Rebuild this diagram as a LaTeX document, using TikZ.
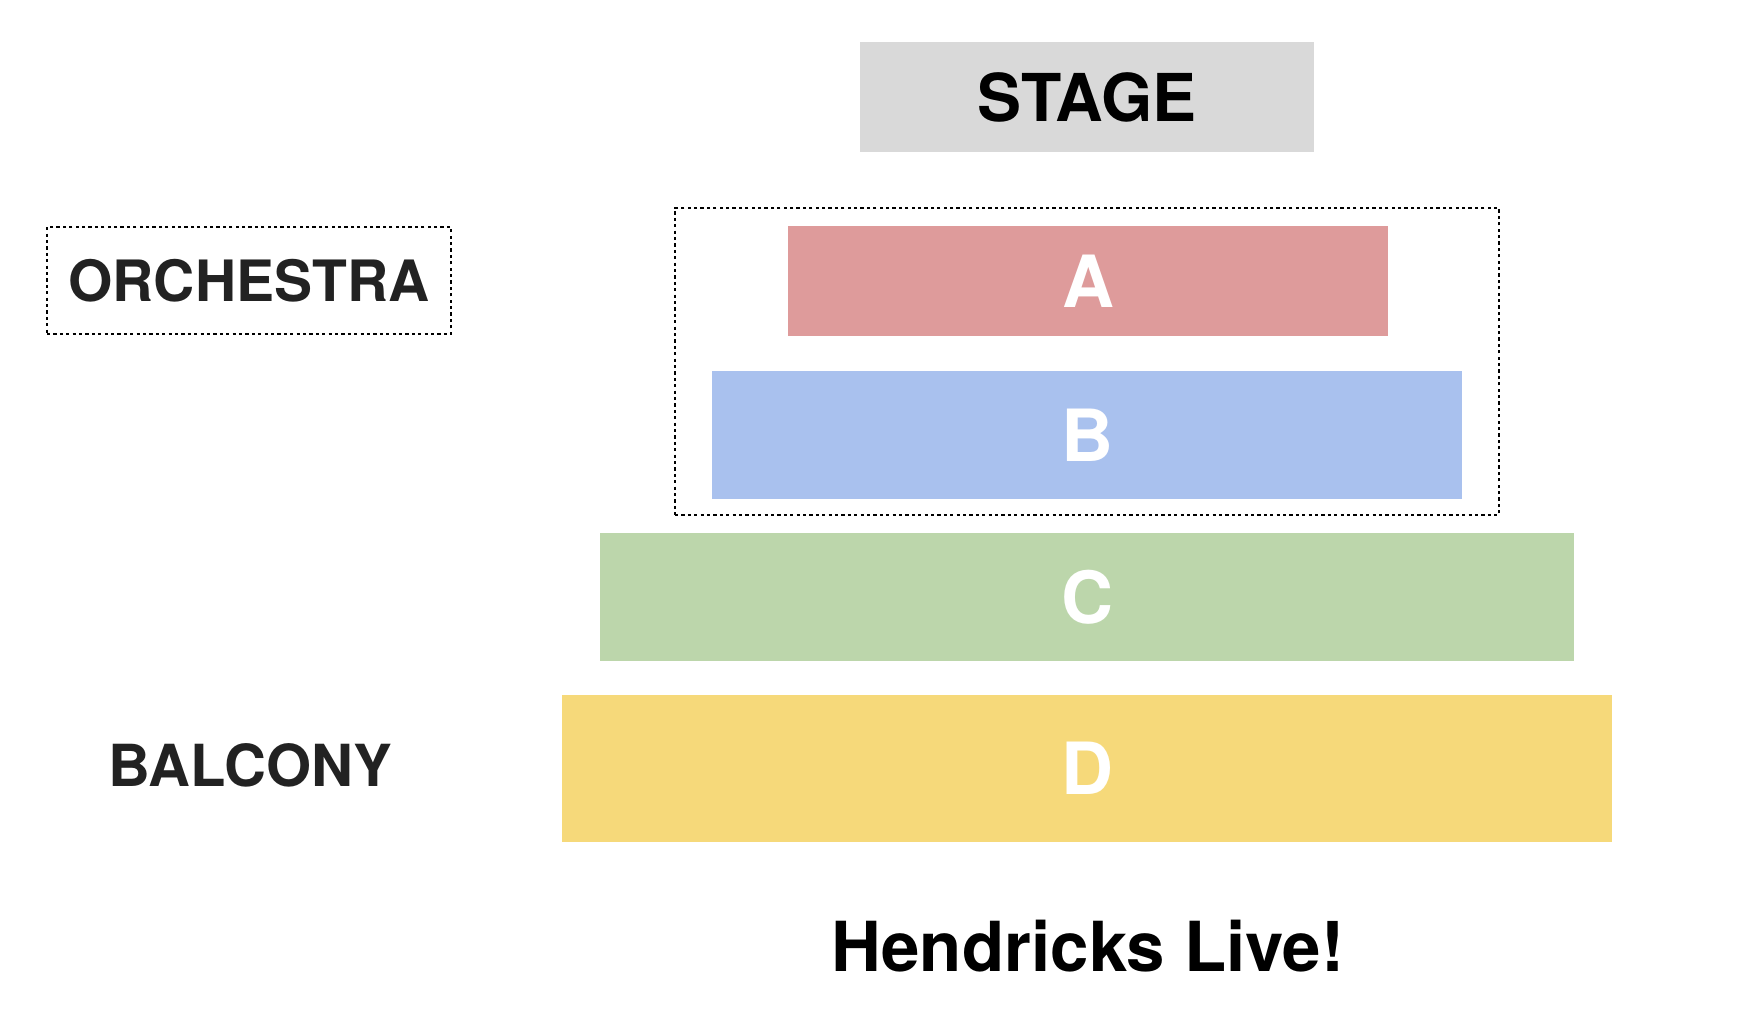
\documentclass[tikz,border=0pt]{standalone}
\usepackage{fontspec}
\setmainfont{TeX Gyre Heros}
\definecolor{stagegray}{HTML}{D9D9D9}
\definecolor{secA}{HTML}{DE9B9B}
\definecolor{secB}{HTML}{A9C1EE}
\definecolor{secC}{HTML}{BCD6AB}
\definecolor{secD}{HTML}{F6D97A}
\definecolor{labelgray}{HTML}{222222}
\begin{document}
\begin{tikzpicture}[x=0.5pt,y=-0.5pt,
  sect/.style={rectangle, draw=none, inner sep=0pt, text=white, font=\fontsize{36}{40}\selectfont\bfseries},
  dashbox/.style={rectangle, draw=black, line width=0.8pt, dash pattern=on 1.6pt off 1.6pt, inner sep=0pt},
  sidelabel/.style={text=labelgray, inner sep=0pt, font=\fontsize{28.5}{32}\selectfont\bfseries}]
\useasboundingbox (0,0) rectangle (1760,1030);
\node[sect, fill=stagegray, text=black, minimum width=227pt, minimum height=55pt,
  font=\fontsize{33}{36}\selectfont\bfseries] (stage) at (1087,97) {STAGE};
\node[dashbox, minimum width=412pt, minimum height=153.5pt] (orchbox) at (1087,361.5) {};
\node[sect, fill=secA, minimum width=300pt, minimum height=55pt] (A) at (1088,281) {A};
\node[sect, fill=secB, minimum width=375pt, minimum height=64pt] (B) at (1087,435) {B};
\node[sect, fill=secC, minimum width=487pt, minimum height=64pt] (C) at (1087,597) {C};
\node[sect, fill=secD, minimum width=525pt, minimum height=73.5pt] (D) at (1087,768.5) {D};
\node[dashbox, sidelabel, minimum width=202pt, minimum height=53.5pt] (orch) at (249,280.5) {ORCHESTRA};
\node[sidelabel, font=\fontsize{29}{32}\selectfont\bfseries] (balc) at (250,765) {BALCONY};
\node[inner sep=0pt, font=\fontsize{34.5}{38}\selectfont\bfseries] (title) at (1088,946) {Hendricks Live!};
\end{tikzpicture}
\end{document}
